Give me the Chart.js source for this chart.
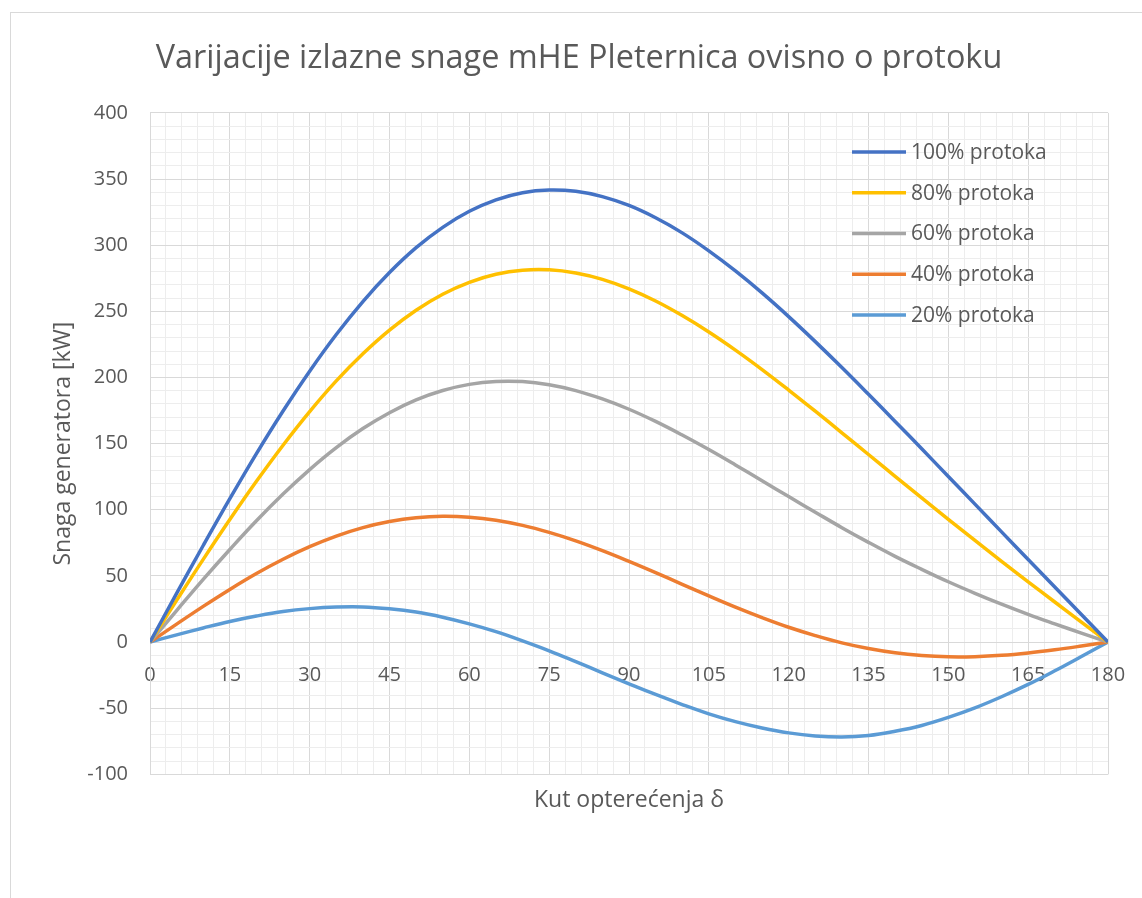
<!DOCTYPE html>
<html>
<head>
<meta charset="utf-8">
<title>Varijacije izlazne snage mHE Pleternica</title>
<script src="https://cdn.jsdelivr.net/npm/chart.js@4.4.1/dist/chart.umd.min.js"></script>
<style>
  html, body { margin: 0; padding: 0; background: #fff; }
  #wrap { width: 1142px; height: 898px; }
</style>
</head>
<body>
<div id="wrap"><canvas id="chart" width="1142" height="898"></canvas></div>
<script>
// ===== podaci =====
// kut opterećenja δ [°]
const ANGLES = [0, 5, 10, 15, 20, 25, 30, 35, 40, 45, 50, 55, 60, 65, 70, 75, 80, 85, 90,
                95, 100, 105, 110, 115, 120, 125, 130, 135, 140, 145, 150, 155, 160, 165, 170, 175, 180];

// snaga generatora [kW] za pojedini protok
const P_100 = [0, 36.8, 73.0, 108.4, 142.5, 174.7, 204.8, 232.5, 257.4, 279.3, 298.1, 313.5, 325.6,
               334.3, 339.7, 341.7, 340.7, 336.7, 330.0, 320.7, 309.3, 295.7, 280.5, 263.9, 246.0,
               227.1, 207.5, 187.3, 166.8, 146.1, 125.2, 104.3, 83.3, 62.4, 41.6, 20.8, 0];
const P_80  = [0, 31.5, 62.5, 92.6, 121.5, 148.8, 174.2, 197.4, 217.9, 235.8, 250.8, 262.9, 271.9,
               278.0, 281.1, 281.4, 279.0, 274.2, 267.0, 257.8, 246.8, 234.4, 220.7, 206.0, 190.5,
               174.5, 158.2, 141.8, 125.3, 109.0, 92.8, 76.8, 61.1, 45.6, 30.3, 15.1, 0];
const P_60  = [0, 23.8, 47.4, 70.0, 91.7, 111.9, 130.4, 147.0, 161.4, 173.4, 183.1, 190.2, 194.8,
               197.0, 196.9, 194.5, 190.1, 183.8, 176.0, 166.8, 156.5, 145.5, 133.9, 122.0, 110.0,
               98.2, 86.5, 75.4, 64.8, 55.0, 45.6, 36.9, 28.7, 21.0, 13.8, 6.8, 0];
const P_40  = [0, 13.6, 27.0, 39.8, 51.8, 62.6, 72.1, 80.1, 86.5, 91.1, 94.0, 95.1, 94.4,
               92.1, 88.2, 82.9, 76.5, 69.1, 61.0, 52.5, 43.7, 34.9, 26.4, 18.5, 11.2,
               4.9, -0.6, -4.9, -8.1, -10.1, -11.1, -11.0, -10.0, -8.2, -5.8, -3.0, 0];
const P_20  = [0, 5.5, 10.7, 15.6, 19.7, 23.1, 25.3, 26.5, 26.6, 25.2, 22.7, 18.8, 13.8,
               7.9, 0.9, -6.6, -14.8, -23.2, -31.5, -39.6, -47.2, -54.2, -60.1, -64.9, -68.6,
               -70.9, -71.7, -70.6, -67.4, -63.0, -56.9, -49.7, -41.3, -32.0, -21.7, -10.9, 0];

const SERIES_LABELS = ['100% protoka', '80% protoka', '60% protoka', '40% protoka', '20% protoka'];
const SERIES_VALUES = [P_100, P_80, P_60, P_40, P_20];
const SERIES_COLORS = ['#4472C4', '#FFC000', '#A5A5A5', '#ED7D31', '#5B9BD5'];

// osi
const X_MIN = 0, X_MAX = 180, X_MAJOR = 15, X_MINOR = 3;
const Y_MIN = -100, Y_MAX = 400, Y_MAJOR = 50, Y_MINOR = 10;

const TEXT = '#595959';
const GRID_MAJOR = '#d9d9d9';
const GRID_MINOR = '#ededed';
const FONT = '"Open Sans", "Noto Sans", sans-serif';

// ===== pomoćne =====
function toPoints(values) {
  return values.map((v, i) => ({ x: ANGLES[i], y: v }));
}

function gridColor(major) {
  return ctx => (ctx.tick && ctx.tick.value % major === 0) ? GRID_MAJOR : GRID_MINOR;
}

// okvir grafikona i legenda unutar područja crtanja
const frameAndLegend = {
  id: 'frameAndLegend',
  beforeDraw(chart) {
    const ctx = chart.ctx;
    ctx.save();
    ctx.fillStyle = '#fff';
    ctx.fillRect(0, 0, chart.width, chart.height);
    ctx.strokeStyle = GRID_MAJOR;
    ctx.lineWidth = 1;
    ctx.strokeRect(10.5, 12.5, chart.width + 20, chart.height + 20);
    ctx.restore();
  },
  afterDatasetsDraw(chart) {
    const { ctx, chartArea } = chart;
    const x0 = chartArea.right - 256;
    const y0 = chartArea.top + 39;
    ctx.save();
    ctx.font = '21px ' + FONT;
    ctx.textBaseline = 'middle';
    ctx.textAlign = 'left';
    chart.data.datasets.forEach((ds, i) => {
      const y = y0 + i * 40.8;
      ctx.strokeStyle = ds.borderColor;
      ctx.lineWidth = 3.5;
      ctx.lineCap = 'butt';
      ctx.beginPath();
      ctx.moveTo(x0, y);
      ctx.lineTo(x0 + 54, y);
      ctx.stroke();
      ctx.fillStyle = TEXT;
      ctx.fillText(ds.label, x0 + 59, y + 1);
    });
    ctx.restore();
  }
};

// ===== grafikon =====
const chart = new Chart(document.getElementById('chart'), {
  type: 'line',
  data: {
    datasets: SERIES_LABELS.map((label, i) => ({
      label,
      data: toPoints(SERIES_VALUES[i]),
      borderColor: SERIES_COLORS[i],
      backgroundColor: SERIES_COLORS[i],
      borderWidth: 3.5,
      borderJoinStyle: 'round',
      pointRadius: 0,
      tension: 0.4,
      fill: false,
      order: i,
    })),
  },
  options: {
    responsive: false,
    animation: false,
    layout: { padding: { top: 10, left: 50, right: 34, bottom: 80 } },
    plugins: {
      legend: { display: false },
      tooltip: { enabled: false },
      title: {
        display: true,
        text: 'Varijacije izlazne snage mHE Pleternica ovisno o protoku',
        color: TEXT,
        font: { family: FONT, size: 32.4, weight: 'normal' },
        padding: { top: 29, bottom: 35 },
      },
    },
    scales: {
      x: {
        type: 'linear',
        position: { y: 0 },
        min: X_MIN,
        max: X_MAX,
        // natpisi na osi ne smiju suziti područje crtanja
        afterFit: s => { s.paddingLeft = 0; s.paddingRight = 0; },
        grid: { color: gridColor(X_MAJOR), lineWidth: 1, drawTicks: false },
        border: { color: GRID_MAJOR, width: 1 },
        ticks: {
          stepSize: X_MINOR,
          autoSkip: false,
          maxRotation: 0,
          padding: 21,
          color: TEXT,
          font: { family: FONT, size: 20 },
          callback: v => (v % X_MAJOR === 0 ? String(v) : ''),
        },
      },
      xTitle: {
        type: 'linear',
        position: 'bottom',
        min: X_MIN,
        max: X_MAX,
        grid: { display: false, drawTicks: false },
        border: { display: false },
        ticks: { display: false },
        title: {
          display: true,
          text: 'Kut opterećenja δ',
          color: TEXT,
          font: { family: FONT, size: 23 },
          padding: { top: 12, bottom: 4 },
        },
      },
      y: {
        type: 'linear',
        min: Y_MIN,
        max: Y_MAX,
        afterFit: s => { s.width = 100; },
        grid: { color: gridColor(Y_MAJOR), lineWidth: 1, drawTicks: false },
        border: { color: GRID_MAJOR, width: 1 },
        ticks: {
          stepSize: Y_MINOR,
          autoSkip: false,
          padding: 22,
          color: TEXT,
          font: { family: FONT, size: 20 },
          callback: v => (v % Y_MAJOR === 0 ? String(v) : ''),
        },
        title: {
          display: true,
          text: 'Snaga generatora [kW]',
          color: TEXT,
          font: { family: FONT, size: 23 },
          padding: { top: 0, bottom: 0 },
        },
      },
    },
  },
  plugins: [frameAndLegend],
});
</script>
</body>
</html>
